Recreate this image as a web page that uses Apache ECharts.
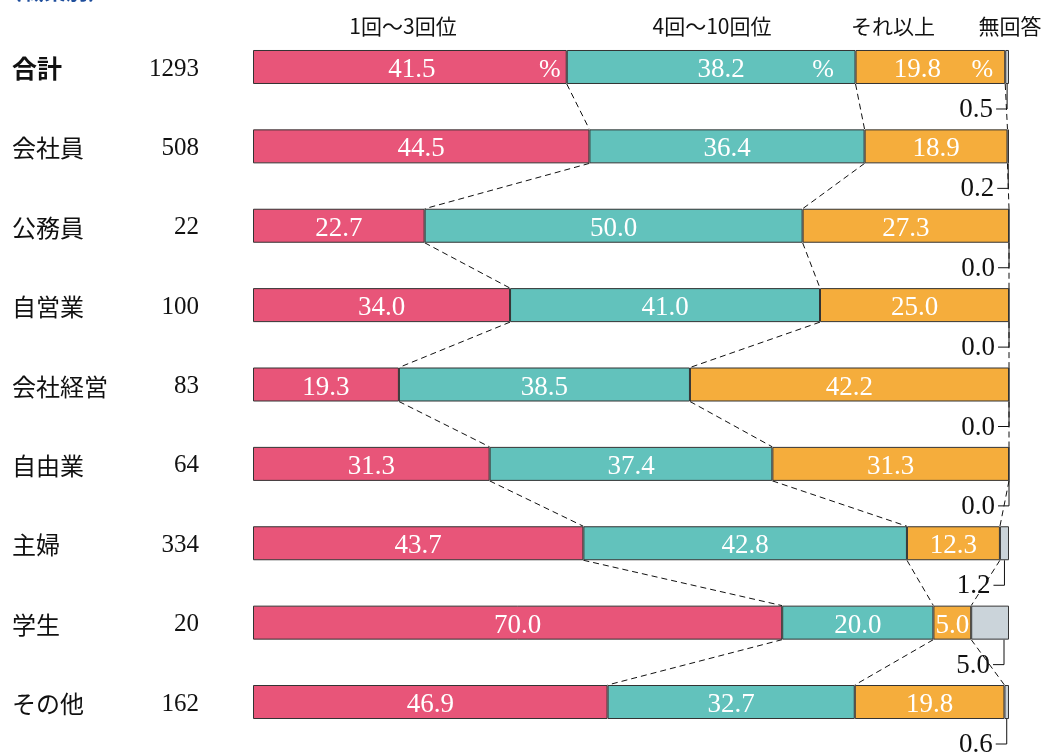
<!DOCTYPE html>
<html>
<head>
<meta charset="utf-8">
<script src="https://cdn.jsdelivr.net/npm/echarts@6/dist/echarts.min.js"></script>
<style>
  html, body { margin: 0; padding: 0; background: #fff; }
  #chart { width: 1045px; height: 753px; }
</style>
</head>
<body>
<div id="chart"></div>
<script>
// 職業別 回答割合 (%)
const categories = ['合計', '会社員', '公務員', '自営業', '会社経営', '自由業', '主婦', '学生', 'その他'];
const sampleSizes = [1293, 508, 22, 100, 83, 64, 334, 20, 162];
const seriesNames = ['1回～3回位', '4回～10回位', 'それ以上', '無回答'];
const r1to3 = [41.5, 44.5, 22.7, 34.0, 19.3, 31.3, 43.7, 70.0, 46.9];
const r4to10 = [38.2, 36.4, 50.0, 41.0, 38.5, 37.4, 42.8, 20.0, 32.7];
const rMore = [19.8, 18.9, 27.3, 25.0, 42.2, 31.3, 12.3, 5.0, 19.8];
const noAnswer = [0.5, 0.2, 0.0, 0.0, 0.0, 0.0, 1.2, 5.0, 0.6];

const colors = ['#e85579', '#62c2bc', '#f5ad3c', '#cbd4da'];
const numFont = '"Liberation Serif", "DejaVu Serif", serif';
const jpFont = '"Noto Sans CJK JP", sans-serif';
const half = 17; // half bar height

// 合計行だけ「%」を添える (幅・ずらしは見た目合わせ)
const pctLayout = [
  { a: 262, off: 9 },
  { a: 190, off: 17 },
  { a: 116, off: -6 }
];

function cum(i) {
  const a = r1to3[i], b = a + r4to10[i], c = b + rMore[i];
  return [a, b, c];
}

function barData(arr, k) {
  return arr.map(function (v, i) {
    if (i === 0 && k < 3) {
      return {
        value: v,
        label: {
          formatter: '{a|' + v.toFixed(1) + '}{b|%}',
          offset: [pctLayout[k].off, 3],
          rich: {
            a: { width: pctLayout[k].a, align: 'center', color: '#fff', fontSize: 27, fontFamily: numFont },
            b: { width: 14, align: 'center', color: '#fff', fontSize: 26, fontFamily: numFont }
          }
        }
      };
    }
    return v;
  });
}

const values = [r1to3, r4to10, rMore, noAnswer];
const bars = values.map(function (arr, k) {
  return {
    name: seriesNames[k],
    type: 'bar',
    stack: 'total',
    barWidth: 34,
    silent: true,
    itemStyle: { color: colors[k], borderColor: '#333', borderWidth: 1 },
    label: {
      show: k < 3,
      position: 'inside',
      offset: [0, 3],
      color: '#fff',
      fontSize: 27,
      fontFamily: numFont,
      formatter: function (p) { return p.value.toFixed(1); }
    },
    data: barData(arr, k)
  };
});

// 行間の破線
const links = {
  type: 'custom',
  silent: true,
  encode: { x: 0, y: 1 },
  data: categories.slice(0, -1).map(function (c, i) { return [0, i]; }),
  renderItem: function (params, api) {
    const i = api.value(1);
    const a = cum(i), b = cum(i + 1);
    const children = [];
    for (let k = 0; k < 3; k++) {
      const p1 = api.coord([a[k], i]);
      const p2 = api.coord([b[k], i + 1]);
      children.push({
        type: 'line',
        shape: { x1: p1[0], y1: p1[1] + half, x2: p2[0], y2: p2[1] - half },
        style: { stroke: '#111', lineWidth: 1, lineDash: [6, 4] }
      });
    }
    return { type: 'group', children: children };
  }
};

// 無回答の引き出しラベル
const naLabels = {
  type: 'custom',
  silent: true,
  encode: { x: 0, y: 1 },
  data: noAnswer.map(function (v, i) { return [v, i]; }),
  renderItem: function (params, api) {
    const g = api.value(0), i = api.value(1);
    const right = api.coord([100, i]);
    const mid = api.coord([100 - g / 2, i]);
    const x = Math.max(mid[0], right[0] - 5);
    const y0 = right[1] + half, y1 = right[1] + 42;
    return {
      type: 'group',
      children: [
        {
          type: 'polyline',
          shape: { points: [[x, y0], [x, y1], [x - 11, y1]] },
          style: { stroke: '#111', lineWidth: 1, fill: null }
        },
        {
          type: 'text',
          style: {
            x: x - 14, y: y1 + 1, text: g.toFixed(1),
            align: 'right', verticalAlign: 'middle',
            fontSize: 27, fontFamily: numFont, fill: '#111'
          }
        }
      ]
    };
  }
};

const headerX = [403, 712, 893, 1010];

const option = {
  animation: false,
  backgroundColor: '#fff',
  grid: { left: 253, right: 36, top: 27.3, bottom: 11.3 },
  xAxis: { type: 'value', min: 0, max: 100, show: false },
  yAxis: {
    type: 'category',
    inverse: true,
    data: categories,
    axisLine: { show: false },
    axisTick: { show: false },
    axisLabel: {
      margin: 54,
      formatter: function (v, i) {
        return '{' + (i === 0 ? 'nb' : 'n') + '|' + v + '}{c|' + sampleSizes[i] + '}';
      },
      rich: {
        n: { width: 117, align: 'left', fontSize: 24, fontFamily: jpFont, color: '#111', padding: [4, 0, 0, 0] },
        nb: { width: 117, align: 'left', fontSize: 25, fontWeight: 'bold', fontFamily: jpFont, color: '#111', padding: [4, 0, 0, 0] },
        c: { width: 70, align: 'right', fontSize: 25, fontFamily: numFont, color: '#111', padding: [4, 0, 0, 0] }
      }
    }
  },
  graphic: [
    {
      type: 'text', left: 0, top: -20,
      style: { text: '（職業別）', fontSize: 22, fontWeight: 'bold', fontFamily: jpFont, fill: '#1f4e9c' }
    }
  ].concat(seriesNames.map(function (n, k) {
    return {
      type: 'text',
      x: headerX[k], y: 26,
      style: {
        text: n, align: 'center', verticalAlign: 'middle',
        fontSize: 21, fontFamily: jpFont, fill: '#111'
      }
    };
  })),
  series: bars.concat([links, naLabels])
};

const myChart = echarts.init(document.getElementById('chart'));
myChart.setOption(option);
window.addEventListener('resize', function () { myChart.resize(); });
</script>
</body>
</html>
